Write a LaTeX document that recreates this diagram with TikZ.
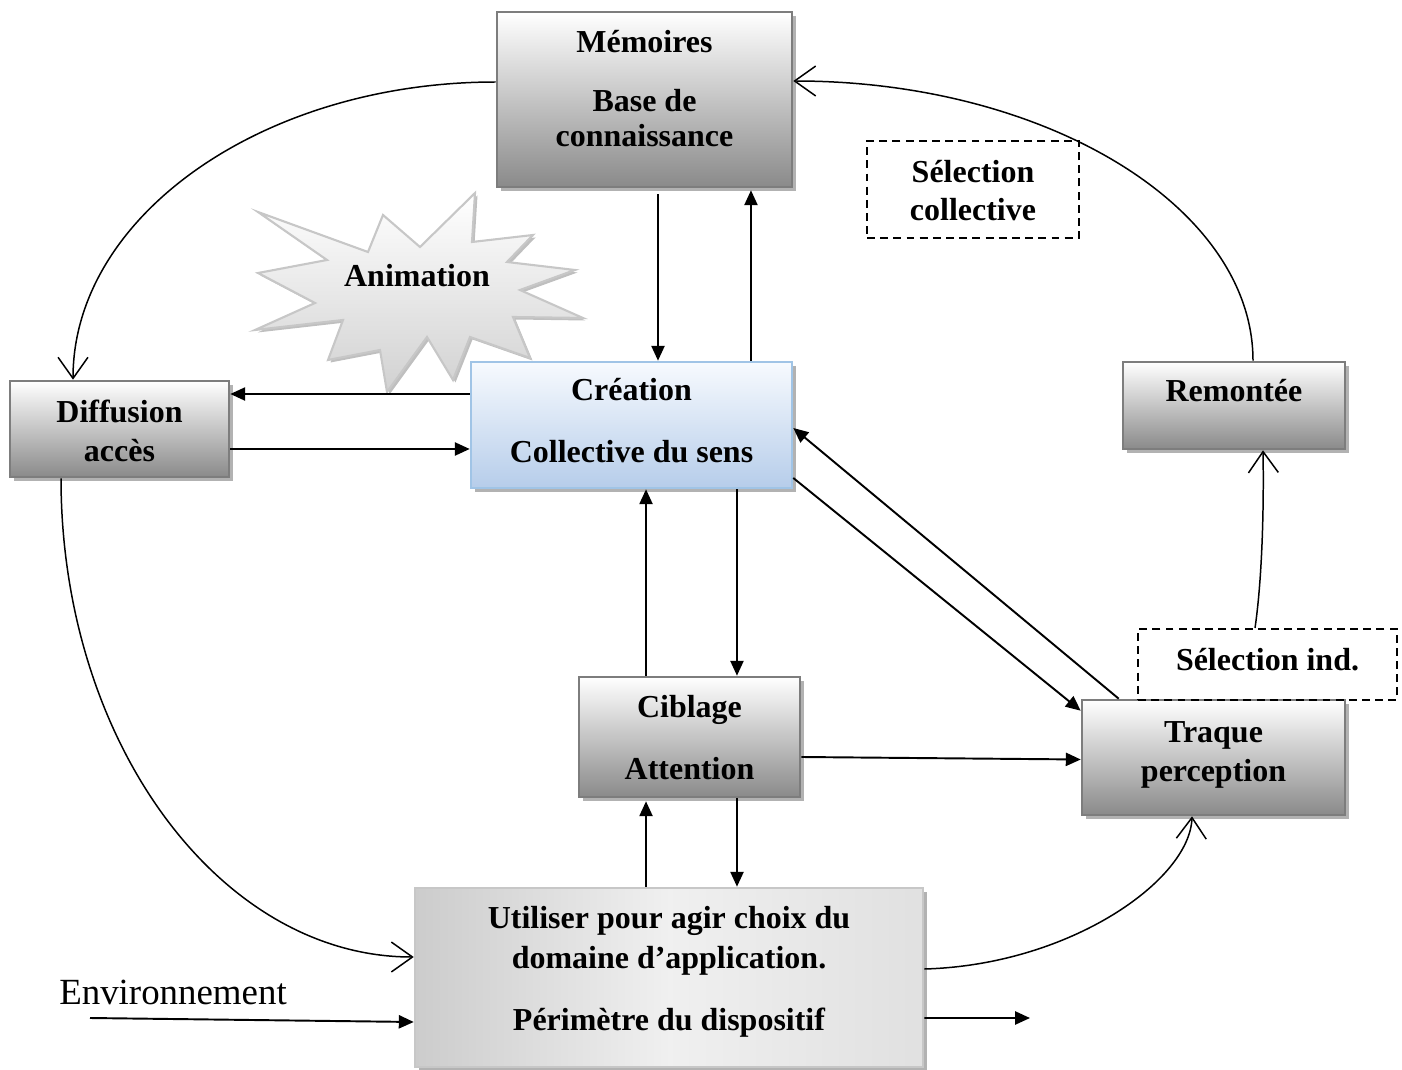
\documentclass[tikz,border=0pt]{standalone}
\usepackage{fontspec}
\setmainfont{Liberation Serif}
\usetikzlibrary{arrows.meta,shadows,calc}

\definecolor{boxedge}{RGB}{125,125,125}
\definecolor{boxdark}{RGB}{138,138,138}
\definecolor{blueedge}{RGB}{160,196,230}
\definecolor{bluedark}{RGB}{182,205,234}
\definecolor{bluelight}{RGB}{247,250,254}
\definecolor{shadowgray}{RGB}{178,178,178}

\tikzset{
  lbl/.style={anchor=base, inner sep=0pt, font=\bfseries\fontsize{18.2}{21}\selectfont},
  dshadow/.style={drop shadow={shadow xshift=0.08cm, shadow yshift=-0.08cm, fill=shadowgray, opacity=1}},
  graybox/.style={rectangle, draw=boxedge, line width=1.5pt, top color=white, bottom color=boxdark, dshadow, inner sep=0pt},
  bluebox/.style={rectangle, draw=blueedge, line width=1.5pt, top color=bluelight, bottom color=bluedark, dshadow, inner sep=0pt},
  lightbox/.style={rectangle, draw=black!22, line width=1.5pt, left color=black!20, right color=black!12, middle color=black!6, dshadow, inner sep=0pt},
  dashbox/.style={rectangle, draw=black, line width=1.2pt, dash pattern=on 4.5pt off 3pt, inner sep=0pt},
  arr/.style={line width=1.1pt, -{Triangle[length=8.5pt,width=7.5pt]}},
  vee/.style={line width=0.85pt, -{Straight Barb[length=12pt,width=17pt,line width=0.85pt]}},
}

\begin{document}
\begin{tikzpicture}[x=0.02cm,y=-0.02cm]
\useasboundingbox (0,0) rectangle (1402,1070);

% decorative burst behind the labels
\path[draw=black!22, line width=1.2pt, top color=white, bottom color=black!18,
      drop shadow={shadow xshift=0.05cm, shadow yshift=-0.05cm, fill=black!25, opacity=1}]
  (258,212) -- (368,252) -- (383,215) -- (420,247) -- (475,193) -- (472,242)
  -- (533,235) -- (507,262) -- (575,270) -- (520,290) -- (583,318) -- (513,317)
  -- (530,358) -- (470,337) -- (453,380) -- (427,337) -- (387,392) -- (380,350)
  -- (328,360) -- (343,320) -- (255,330) -- (315,303) -- (258,273) -- (327,260) -- cycle;
\node[lbl] (anim) at (417,287) {Animation};

% boxes
\node[graybox, minimum width=5.90cm, minimum height=3.50cm] (mem) at (644.5,99.5) {};
\node[bluebox, minimum width=6.42cm, minimum height=2.52cm] (cre) at (631.5,425) {};
\node[graybox, minimum width=4.38cm, minimum height=1.92cm] (dif) at (119.5,429) {};
\node[graybox, minimum width=4.44cm, minimum height=1.74cm] (rem) at (1234,405.5) {};
\node[graybox, minimum width=4.42cm, minimum height=2.40cm] (cib) at (689.5,737) {};
\node[graybox, minimum width=5.26cm, minimum height=2.30cm] (tra) at (1213.5,757.5) {};
\node[lightbox, minimum width=10.16cm, minimum height=3.58cm] (uti) at (669,977.5) {};
\node[dashbox, minimum width=4.24cm, minimum height=1.94cm] (selc) at (973,189.5) {};
\node[dashbox, minimum width=5.18cm, minimum height=1.42cm] (seli) at (1267.5,664.5) {};

% box texts
\node[lbl] (mem1) at (644.5,53) {Mémoires};
\node[lbl] (mem2) at (644.5,112) {Base de};
\node[lbl] (mem3) at (644.5,147) {connaissance};
\node[lbl] (cre1) at (631.5,401) {Création};
\node[lbl] (cre2) at (631.5,463) {Collective du sens};
\node[lbl] (dif1) at (119.5,423) {Diffusion};
\node[lbl] (dif2) at (119.5,462) {accès};
\node[lbl] (rem1) at (1234,402) {Remontée};
\node[lbl] (cib1) at (689.5,717) {Ciblage};
\node[lbl] (cib2) at (689.5,779) {Attention};
\node[lbl] (tra1) at (1213.5,742) {Traque};
\node[lbl] (tra2) at (1213.5,781) {perception};
\node[lbl] (uti1) at (669,928) {Utiliser pour agir choix du};
\node[lbl] (uti2) at (669,968) {domaine d’application.};
\node[lbl] (uti3) at (669,1030) {Périmètre du dispositif};
\node[lbl] (selc1) at (973,183) {Sélection};
\node[lbl] (selc2) at (973,221) {collective};
\node[lbl] (seli1) at (1267.5,670) {Sélection ind.};
\node[anchor=base, inner sep=0pt, font=\fontsize{21}{24}\selectfont] (env) at (173,1004) {Environnement};

\coordinate (envstart) at (90,1018);
\coordinate (outend) at (1030,1018);

% straight connectors
\draw[arr] ([xshift=0.27cm,yshift=-0.12cm]mem.south) -- ([xshift=0.27cm]mem.south |- cre.north);
\draw[arr] ([xshift=2.39cm]cre.north) -- ([xshift=2.39cm,yshift=-0.04cm]cre.north |- mem.south);
\draw[arr] ([yshift=0.62cm]cre.west) -- ([yshift=0.62cm]cre.west -| dif.east);
\draw[arr] ([yshift=-0.40cm]dif.east) -- ([yshift=-0.40cm]dif.east -| cre.west);
\draw[arr] ([xshift=-0.87cm]cib.north) -- ([xshift=-0.87cm]cib.north |- cre.south);
\draw[arr] ([xshift=2.11cm]cre.south) -- ([xshift=2.11cm]cre.south |- cib.north);
\draw[arr] ([yshift=-1.06cm]cre.east) -- ([yshift=-0.24cm]tra.north west);
\draw[arr] ([xshift=0.76cm]tra.north west) -- ([yshift=-0.06cm]cre.east);
\draw[arr] ([yshift=-0.40cm]cib.east) -- ([yshift=-0.04cm]tra.west);
\draw[arr] ([xshift=-0.46cm]uti.north) -- ([xshift=-0.46cm,yshift=-0.06cm]uti.north |- cib.south);
\draw[arr] ([xshift=0.95cm]cib.south) -- ([xshift=0.95cm]cib.south |- uti.north);
\draw[arr] (envstart) -- ([yshift=-0.89cm]uti.west);
\draw[arr] ([yshift=-0.81cm]uti.east) -- (outend);

% curved connectors
\draw[vee] ([yshift=0.35cm]mem.west) .. controls (263,82) and (73,216) .. ([xshift=-0.93cm]dif.north);
\draw[vee] ([xshift=-1.17cm]dif.south) .. controls (61,742) and (220,957) .. ([yshift=0.41cm]uti.west);
\draw[vee] ([xshift=0.38cm]rem.north) .. controls (1253,207) and (1046,81) .. ([yshift=0.37cm]mem.east);
\draw[vee] ([xshift=-0.25cm]seli.north) .. controls (1262,580) and (1264,510) .. ([xshift=0.58cm]rem.south);
\draw[vee] ([yshift=0.17cm]uti.east) .. controls (1070,965) and (1190,880) .. ([xshift=-0.43cm]tra.south);
\end{tikzpicture}
\end{document}
